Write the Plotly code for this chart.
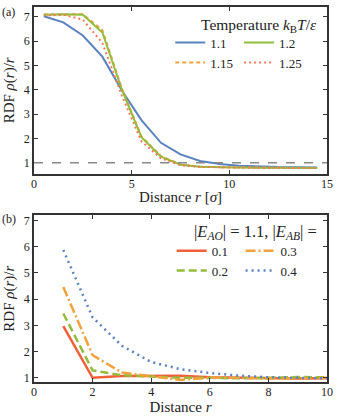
import plotly.graph_objects as go
from plotly.subplots import make_subplots

# ── Data ──────────────────────────────────────────────
r_top = [0.5, 1.5, 2.5, 3.5, 4.5, 5.5, 6.5, 7.5, 8.5, 9.5, 10.5, 11.5, 12.5, 13.5, 14.5]
rdf_t110 = [7.02, 6.77, 6.23, 5.36, 3.97, 2.75, 1.82, 1.34, 1.07, 0.95, 0.88, 0.84, 0.82, 0.81, 0.80]
rdf_t115 = [7.09, 7.11, 7.10, 6.45, 4.05, 2.08, 1.27, 0.93, 0.84, 0.81, 0.80, 0.79, 0.79, 0.78, 0.78]
rdf_t120 = [7.08, 7.10, 7.08, 6.35, 4.00, 2.05, 1.25, 0.92, 0.84, 0.81, 0.80, 0.79, 0.79, 0.78, 0.78]
rdf_t125 = [7.05, 7.08, 6.88, 5.92, 3.75, 1.88, 1.18, 0.90, 0.83, 0.81, 0.80, 0.79, 0.79, 0.78, 0.78]

r_bot = [1, 2, 3, 4, 5, 6, 7, 8, 9, 10]
rdf_e01 = [2.97, 1.00, 1.07, 1.07, 1.08, 1.02, 1.00, 0.98, 0.97, 0.98]
rdf_e02 = [3.45, 1.28, 1.10, 1.05, 1.00, 1.00, 0.98, 1.00, 1.03, 1.02]
rdf_e03 = [4.46, 1.86, 1.20, 1.05, 0.92, 1.00, 1.00, 0.97, 0.97, 1.00]
rdf_e04 = [5.87, 3.30, 2.22, 1.60, 1.33, 1.18, 1.08, 1.02, 1.00, 0.98]

BLUE   = '#5A82C0'
ORANGE = '#F2A23A'
GREEN  = '#94BC3C'
RED    = '#F5785A'
RED2   = '#F0603A'
FRAME  = '#333333'
FONT   = 'Liberation Serif'

fig = make_subplots(rows=2, cols=1, vertical_spacing=0.111)

# ── Panel (a) ─────────────────────────────────────────
fig.add_trace(go.Scatter(x=r_top, y=rdf_t110, mode='lines', name='1.1',
                         line=dict(color=BLUE, width=2), legend='legend'), row=1, col=1)
fig.add_trace(go.Scatter(x=r_top, y=rdf_t115, mode='lines', name='1.15',
                         line=dict(color=ORANGE, width=2, dash='4px,3px'), legend='legend'), row=1, col=1)
fig.add_trace(go.Scatter(x=r_top, y=rdf_t120, mode='lines', name='1.2',
                         line=dict(color=GREEN, width=2), legend='legend2'), row=1, col=1)
fig.add_trace(go.Scatter(x=r_top, y=rdf_t125, mode='lines', name='1.25',
                         line=dict(color=RED, width=2, dash='2px,3px'), legend='legend2'), row=1, col=1)
fig.add_hline(y=1, line_dash='dash', line_color='#888888', line_width=1.5, row=1, col=1)

# ── Panel (b) ─────────────────────────────────────────
fig.add_trace(go.Scatter(x=r_bot, y=rdf_e01, mode='lines', name='0.1',
                         line=dict(color=RED2, width=2.5), legend='legend3'), row=2, col=1)
fig.add_trace(go.Scatter(x=r_bot, y=rdf_e02, mode='lines', name='0.2',
                         line=dict(color=GREEN, width=2.5, dash='8px,4px'), legend='legend3'), row=2, col=1)
fig.add_trace(go.Scatter(x=r_bot, y=rdf_e03, mode='lines', name='0.3',
                         line=dict(color=ORANGE, width=2.5, dash='10px,3px,2px,3px'), legend='legend4'), row=2, col=1)
fig.add_trace(go.Scatter(x=r_bot, y=rdf_e04, mode='lines', name='0.4',
                         line=dict(color=BLUE, width=2.5, dash='2px,4px'), legend='legend4'), row=2, col=1)

axis_style = dict(showline=True, linecolor=FRAME, linewidth=1.5, mirror='ticks',
                  ticks='inside', ticklen=4, tickcolor=FRAME, tickwidth=1,
                  showgrid=False, zeroline=False, ticklabeloverflow='allow',
                  tickfont=dict(family=FONT, size=12, color='#222'))

title_font = dict(family=FONT, size=15, color='#222')

fig.update_xaxes(**axis_style)
fig.update_yaxes(**axis_style)
fig.update_xaxes(ticklabelstandoff=-2)
fig.update_xaxes(range=[0, 15], tickvals=[0, 5, 10, 15],
                 title=dict(text='Distance <i>r</i> [<i>σ</i>]', standoff=2, font=title_font),
                 row=1, col=1)
fig.update_yaxes(range=[0.55, 7.4], tickvals=[1, 2, 3, 4, 5, 6, 7],
                 title=dict(text='RDF <i>ρ</i>(<i>r</i>)/<i>r</i>', standoff=6, font=title_font),
                 row=1, col=1)
fig.update_xaxes(range=[0, 10], tickvals=[0, 2, 4, 6, 8, 10],
                 title=dict(text='Distance <i>r</i>', standoff=2, font=title_font),
                 row=2, col=1)
fig.update_yaxes(range=[0.84, 7.19], tickvals=[1, 2, 3, 4, 5, 6, 7],
                 title=dict(text='RDF <i>ρ</i>(<i>r</i>)/<i>r</i>', standoff=6, font=title_font),
                 row=2, col=1)

leg = dict(bgcolor='rgba(0,0,0,0)', font=dict(family=FONT, size=13, color='#222'),
           xanchor='left', yanchor='top', itemwidth=30, tracegroupgap=0)

fig.update_layout(
    width=338, height=417,
    margin=dict(l=34, r=9, t=5, b=34),
    plot_bgcolor='white', paper_bgcolor='white',
    legend=dict(leg, x=0.465, y=0.945),
    legend2=dict(leg, x=0.70, y=0.945),
    legend3=dict(leg, x=0.47, y=0.390),
    legend4=dict(leg, x=0.705, y=0.390),
    annotations=[
        dict(text='Temperature <i>k</i><sub>B</sub><i>T</i>/<i>ε</i>', xref='paper', yref='paper',
             x=0.972, y=0.982, xanchor='right', yanchor='top', showarrow=False,
             font=dict(family=FONT, size=15.5, color='#222')),
        dict(text='|<i>E<sub>AO</sub></i>| = 1.1, |<i>E<sub>AB</sub></i>| =', xref='paper', yref='paper',
             x=0.972, y=0.432, xanchor='right', yanchor='top', showarrow=False,
             font=dict(family=FONT, size=16.5, color='#222')),
        dict(text='(a)', xref='paper', yref='paper', x=-0.115, y=1.01,
             xanchor='left', yanchor='top', showarrow=False,
             font=dict(family=FONT, size=12, color='#222')),
        dict(text='(b)', xref='paper', yref='paper', x=-0.115, y=0.46,
             xanchor='left', yanchor='top', showarrow=False,
             font=dict(family=FONT, size=12, color='#222')),
    ],
)

fig.write_html("out.html", config={'displayModeBar': False},
               post_script="document.body.style.margin='0';")
